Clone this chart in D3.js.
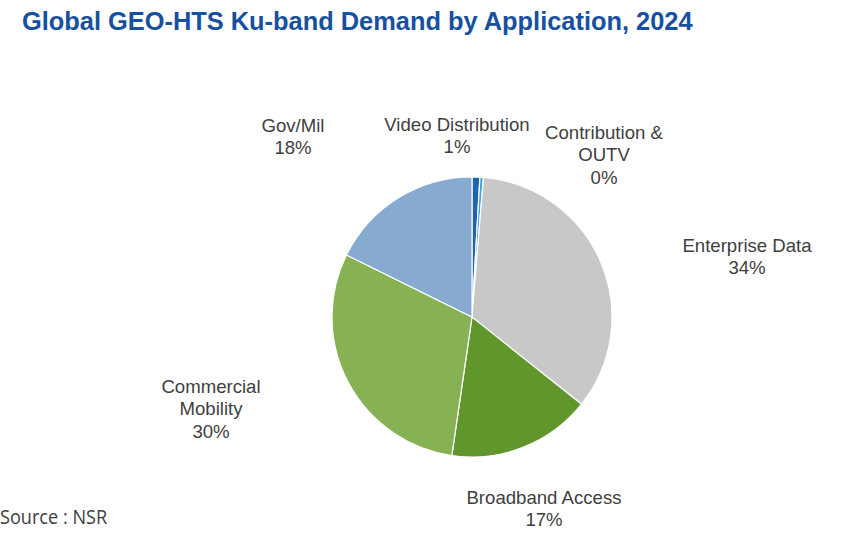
<!DOCTYPE html>
<html><head><meta charset="utf-8">
<script src="https://cdn.jsdelivr.net/npm/d3@7/dist/d3.min.js"></script>
<style>body{margin:0;background:#fff;}svg{display:block;}</style>
</head><body>
<script>
const categories = ["Video Distribution","Contribution & OUTV","Enterprise Data","Broadband Access","Commercial Mobility","Gov/Mil"];
const values = [0.9, 0.4, 34.4, 16.6, 30.0, 17.7];
const pctLabels = ["1%","0%","34%","17%","30%","18%"];
const labelLines = [["Video Distribution"],["Contribution &","OUTV"],["Enterprise Data"],["Broadband Access"],["Commercial","Mobility"],["Gov/Mil"]];
const colors = ["#1F64AE","#3FA4DC","#C8C8C8","#60962B","#86B254","#87ABD0"];
// label anchor positions (center x, first-line baseline y)
const labelPos = [[457,131],[604,139],[747,252],[544,504],[211,393],[293,132]];

const W=863,H=534;
const svg=d3.select("body").append("svg").attr("width",W).attr("height",H);
svg.append("text").attr("x",22).attr("y",30).attr("font-family","Liberation Sans, Arial, sans-serif")
  .attr("font-weight","bold").attr("font-size",25.4).attr("fill","#1750A0")
  .text("Global GEO-HTS Ku-band Demand by Application, 2024");
svg.append("g").attr("transform","translate(0,524) scale(0.93,1)")
  .append("text").attr("x",0).attr("y",0).attr("font-family","Open Sans, sans-serif")
  .attr("font-size",19.5).attr("fill","#404040").text("Source : NSR");

const cx=472, cy=317, r=140;
const pie=d3.pie().sort(null).value(d=>d.v);
const data=categories.map((c,i)=>({c,v:values[i],i}));
const arcs=pie(data);
const arc=d3.arc().innerRadius(0).outerRadius(r);
const g=svg.append("g").attr("transform",`translate(${cx},${cy})`);
g.selectAll("path").data(arcs).join("path").attr("d",arc)
  .attr("fill",d=>colors[d.data.i]).attr("stroke","#fff").attr("stroke-width",1.2);

const lg=svg.append("g").attr("font-family","Liberation Sans, Arial, sans-serif").attr("font-size",18.6).attr("fill","#404040").attr("text-anchor","middle");
data.forEach((d,i)=>{
  const lines=labelLines[i].concat([pctLabels[i]]);
  const t=lg.append("text").attr("x",labelPos[i][0]).attr("y",labelPos[i][1]);
  lines.forEach((l,k)=>t.append("tspan").attr("x",labelPos[i][0]).attr("dy",k?22.3:0).text(l));
});
</script>
</body></html>
